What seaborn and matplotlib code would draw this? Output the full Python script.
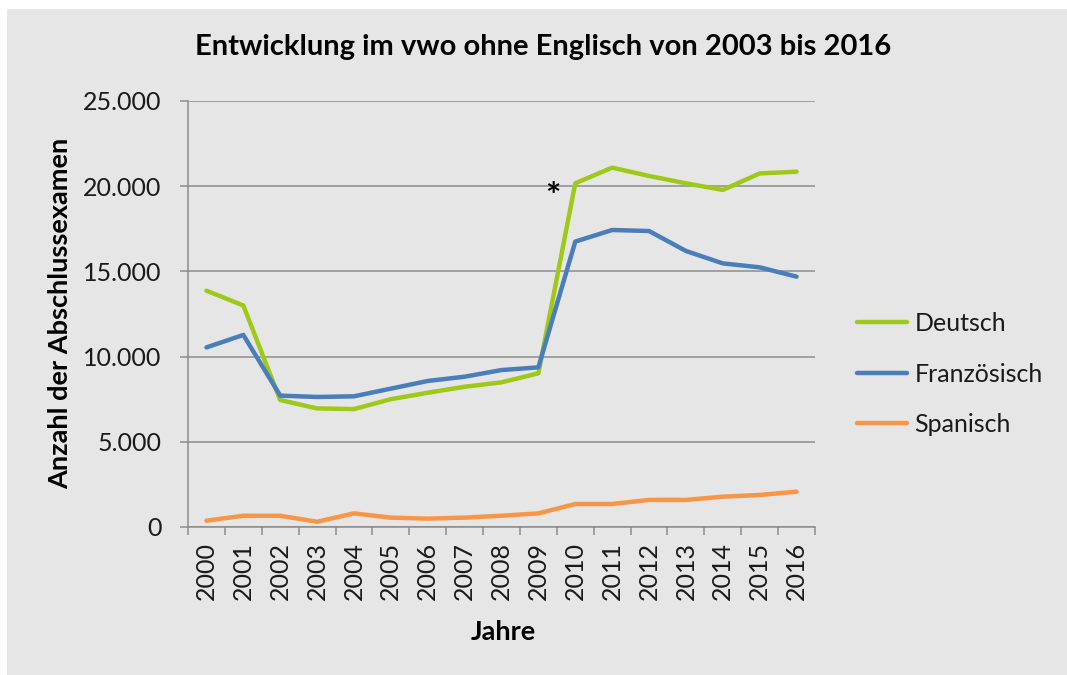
import numpy as np
import pandas as pd
import matplotlib
matplotlib.use('Agg')
import matplotlib.pyplot as plt
from matplotlib.patches import Rectangle
from matplotlib.ticker import FuncFormatter
import seaborn as sns

# data
years = [str(y) for y in range(2000, 2017)]
deutsch = [13870, 13000, 7450, 6960, 6920, 7500, 7880, 8230, 8490, 9020,
           20170, 21090, 20600, 20170, 19780, 20750, 20850]
franzoesisch = [10540, 11270, 7710, 7630, 7670, 8120, 8570, 8820, 9210, 9370,
                16750, 17430, 17370, 16200, 15470, 15240, 14690]
spanisch = [370, 660, 660, 310, 800, 550, 490, 550, 660, 800,
            1350, 1350, 1590, 1590, 1780, 1880, 2070]
languages = ['Deutsch', 'Französisch', 'Spanisch']
colors = ['#9fc919', '#4a7ebb', '#f79646']
y_ticks = [0, 5000, 10000, 15000, 20000, 25000]

df = pd.DataFrame({'Jahr': years, 'Deutsch': deutsch,
                   'Französisch': franzoesisch, 'Spanisch': spanisch})
df['pos'] = np.arange(len(years))
long_df = df.melt(id_vars=['Jahr', 'pos'], value_vars=languages,
                  var_name='Sprache', value_name='Anzahl')

sns.set_theme(style='white')
plt.rcParams['font.family'] = ['Lato', 'DejaVu Sans']

bg = '#e6e6e6'
axis_gray = '#8c8c8c'
text_col = '#1a1a1a'

fig = plt.figure(figsize=(10.67, 6.75), dpi=100)
fig.patch.set_facecolor('white')
fig.patches.append(Rectangle((7 / 1067, 0), 1, 1 - 9 / 675, transform=fig.transFigure,
                             facecolor=bg, edgecolor='none', zorder=-10))

ax = fig.add_axes([188 / 1067, 1 - 527 / 675, (815 - 188) / 1067, (527 - 101) / 675])
ax.set_facecolor(bg)

sns.lineplot(data=long_df, x='pos', y='Anzahl', hue='Sprache',
             palette=dict(zip(languages, colors)), linewidth=3.2,
             ax=ax, legend=False, zorder=3)

ax.set_xlim(-0.5, len(years) - 0.5)
ax.set_ylim(0, 25000)
ax.set_yticks(y_ticks)
ax.yaxis.set_major_formatter(FuncFormatter(lambda v, p: f'{int(v):,}'.replace(',', '.')))
ax.grid(axis='y', color=axis_gray, linewidth=1.1)
ax.set_axisbelow(True)

# category boundaries as tick marks, labels in the middle
ax.set_xticks(np.arange(-0.5, len(years), 1.0))
ax.set_xticklabels([])
ax.set_xticks(np.arange(len(years)), minor=True)
ax.set_xticklabels(years, minor=True, rotation=90)
ax.tick_params(axis='x', which='major', length=6, width=1.1, color=axis_gray,
               direction='out', bottom=True)
ax.tick_params(axis='x', which='minor', length=0, pad=11, labelsize=18,
               labelcolor=text_col)
ax.tick_params(axis='y', length=6, width=1.1, color=axis_gray, direction='out',
               left=True, pad=13, labelsize=18, labelcolor=text_col)

for side in ['top', 'right']:
    ax.spines[side].set_visible(False)
for side in ['left', 'bottom']:
    ax.spines[side].set_color(axis_gray)
    ax.spines[side].set_linewidth(1.1)
ax.set_xlabel('')
ax.set_ylabel('')

ax.text(9.38, 19350, '*', ha='center', va='center', fontsize=26,
        fontweight='bold', color='black')

fig.text(543 / 1067, 1 - 47 / 675, 'Entwicklung im vwo ohne Englisch von 2003 bis 2016',
         ha='center', va='center', fontsize=21, fontweight='bold', color='black')
fig.text(60 / 1067, 1 - 313 / 675, 'Anzahl der Abschlussexamen', rotation=90,
         ha='center', va='center', fontsize=19.5, fontweight='bold', color='black')
fig.text(503 / 1067, 1 - 632 / 675, 'Jahre', ha='center', va='center',
         fontsize=19.5, fontweight='bold', color='black')

handles = [plt.Line2D([], [], color=c, linewidth=3.2) for c in colors]
fig.legend(handles, languages, loc='center left',
           bbox_to_anchor=(857 / 1067, 1 - 374 / 675), frameon=False,
           borderpad=0, borderaxespad=0, handlelength=2.0, handletextpad=0.3,
           labelspacing=1.1, prop={'size': 18}, labelcolor=text_col)

fig.savefig('out.png', dpi=100, facecolor=fig.get_facecolor())
